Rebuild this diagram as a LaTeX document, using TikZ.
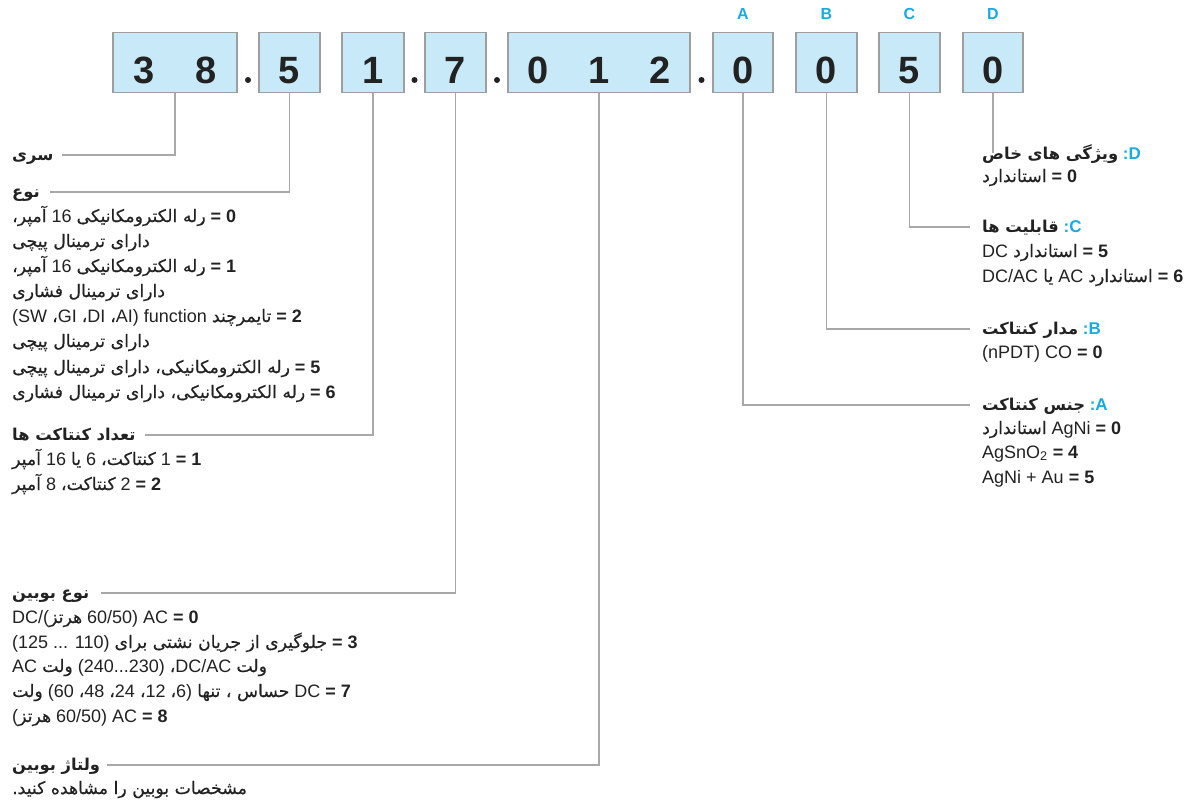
\documentclass[tikz,border=0pt]{standalone}
\usepackage{fontspec}
\setmainfont{Liberation Sans}
\newfontfamily\arfont[Script=Arabic,Scale=0.96,UprightFeatures={FakeBold=0.35}]{DejaVu Sans}
\TeXXeTstate=1
\newcommand\fa[1]{{\arfont\beginR #1\endR}}
\newcommand\arc{{\arfont ،}}
\definecolor{boxfill}{RGB}{200,233,248}
\definecolor{boxline}{RGB}{158,158,158}
\definecolor{wire}{RGB}{168,168,168}
\definecolor{ink}{RGB}{34,34,34}
\definecolor{tag}{RGB}{26,170,226}
\tikzset{
  cell/.style={draw=boxline, fill=boxfill, line width=1.3pt, inner sep=0pt,
    minimum height=60pt, text height=51pt, text depth=9pt, anchor=north,
    text=ink, font=\fontsize{38}{38}\selectfont\bfseries},
  sep/.style={circle, fill=ink, inner sep=0pt, minimum size=6pt},
  letter/.style={text=tag, font=\fontsize{16}{16}\selectfont\bfseries, inner sep=0pt},
  txt/.style={anchor=west, inner sep=0pt, text height=14pt, text depth=4pt,
    text=ink, font=\fontsize{18}{22}\selectfont},
  ttl/.style={txt, font=\fontsize{17}{22}\selectfont\bfseries},
  wire/.style={draw=wire, line width=1.3pt}
}
\begin{document}
\begin{tikzpicture}[x=1pt,y=-1pt]
\useasboundingbox (0,0) rectangle (1195,803);

% code boxes
\node[cell, minimum width=124pt] (b38) at (175,32) {\makebox[62pt]{3}\makebox[62pt]{8}};
\node[cell, minimum width=61pt] (b5) at (289.5,32) {5};
\node[cell, minimum width=62pt] (b1) at (373,32) {1};
\node[cell, minimum width=61pt] (b7) at (455.5,32) {7};
\node[cell, minimum width=182pt] (b012) at (599,32) {\makebox[60.7pt]{0}\makebox[60.7pt]{1}\makebox[60.7pt]{2}};
\node[cell, minimum width=60pt] (bA) at (743,32) {0};
\node[cell, minimum width=61pt] (bB) at (826.5,32) {0};
\node[cell, minimum width=61pt] (bC) at (909.5,32) {5};
\node[cell, minimum width=60pt] (bD) at (993,32) {0};

% separating dots
\node[sep] (s1) at (248,80) {};
\node[sep] (s2) at (414.5,80) {};
\node[sep] (s3) at (497,80) {};
\node[sep] (s4) at (701.5,80) {};

% option letters
\node[letter] (lA) at (743,13.5) {A};
\node[letter] (lB) at (826.5,13.5) {B};
\node[letter] (lC) at (909.5,13.5) {C};
\node[letter] (lD) at (993,13.5) {D};

% left column
\node[ttl] (tSeri) at (12,155) {\fa{سری}};
\node[ttl] (tType) at (12,192) {\fa{نوع}};
\node[txt] (t1) at (12,217) {\fa{آمپر،} 16 \fa{رله الکترومکانیکی} \textbf{= 0}};
\node[txt] (t2) at (12,242) {\fa{دارای ترمینال پیچی}};
\node[txt] (t3) at (12,267) {\fa{آمپر،} 16 \fa{رله الکترومکانیکی} \textbf{= 1}};
\node[txt] (t4) at (12,292) {\fa{دارای ترمینال فشاری}};
\node[txt] (t5) at (12,317) {(SW \arc GI \arc DI \arc AI) function \fa{تایمرچند} \textbf{= 2}};
\node[txt] (t6) at (12,342) {\fa{دارای ترمینال پیچی}};
\node[txt] (t7) at (12,368) {\fa{رله الکترومکانیکی، دارای ترمینال پیچی} \textbf{= 5}};
\node[txt] (t8) at (12,393) {\fa{رله الکترومکانیکی، دارای ترمینال فشاری} \textbf{= 6}};
\node[ttl] (tCount) at (12,435) {\fa{تعداد کنتاکت ها}};
\node[txt] (c1) at (12,460) {\fa{آمپر} 16 \fa{یا} 6 \fa{کنتاکت،} 1 \textbf{= 1}};
\node[txt] (c2) at (12,485) {\fa{آمپر} 8 \fa{کنتاکت،} 2 \textbf{= 2}};
\node[ttl] (tCoil) at (12,593) {\fa{نوع بوبین}};
\node[txt] (k1) at (12,618) {DC/(\fa{هرتز} 60/50) AC \textbf{= 0}};
\node[txt] (k2) at (12,643) {(125 ... 110) \fa{جلوگیری از جریان نشتی برای} \textbf{= 3}};
\node[txt] (k3) at (12,667) {AC \fa{ولت} (240...230) \arc DC/AC \fa{ولت}};
\node[txt] (k4) at (12,692) {\fa{ولت} (60 \arc 48 \arc 24 \arc 12 \arc 6) \fa{حساس ، تنها} DC \textbf{= 7}};
\node[txt] (k5) at (12,717) {(\fa{هرتز} 60/50) AC \textbf{= 8}};
\node[ttl] (tVolt) at (12,765) {\fa{ولتاژ بوبین}};
\node[txt] (v1) at (12,789) {\fa{مشخصات بوبین را مشاهده کنید.}};

% right column
\node[ttl] (tD) at (982,154) {\fa{ویژگی های خاص} \textcolor{tag}{:D}};
\node[txt] (d1) at (982,177) {\fa{استاندارد} \textbf{= 0}};
\node[ttl] (tC) at (982,227) {\fa{قابلیت ها} \textcolor{tag}{:C}};
\node[txt] (cc1) at (982,252) {DC \fa{استاندارد} \textbf{= 5}};
\node[txt] (cc2) at (982,277) {DC/AC \fa{یا} AC \fa{استاندارد} \textbf{= 6}};
\node[ttl] (tB) at (982,329) {\fa{مدار کنتاکت} \textcolor{tag}{:B}};
\node[txt] (bb1) at (982,353) {(nPDT) CO \textbf{= 0}};
\node[ttl] (tA) at (982,405) {\fa{جنس کنتاکت} \textcolor{tag}{:A}};
\node[txt] (a1) at (982,429) {\fa{استاندارد} AgNi \textbf{= 0}};
\node[txt] (a2) at (982,453) {AgSnO\textsubscript{2} \textbf{= 4}};
\node[txt] (a3) at (982,478) {AgNi + Au \textbf{= 5}};

% connectors
\draw[wire] (b38.south) |- ([xshift=8pt]tSeri.east);
\draw[wire] (b5.south) |- ([xshift=10pt]tType.east);
\draw[wire] (b1.south) |- ([xshift=9pt]tCount.east);
\draw[wire] (b7.south) |- ([xshift=12pt]tCoil.east);
\draw[wire] (b012.south) |- ([xshift=7pt]tVolt.east);
\draw[wire] (bA.south) |- ([xshift=-12pt]tA.west);
\draw[wire] (bB.south) |- ([xshift=-12pt]tB.west);
\draw[wire] (bC.south) |- ([xshift=-12pt]tC.west);
\draw[wire] (bD.south) -- ([yshift=-8pt]bD.south |- tD.north);
\end{tikzpicture}
\end{document}
